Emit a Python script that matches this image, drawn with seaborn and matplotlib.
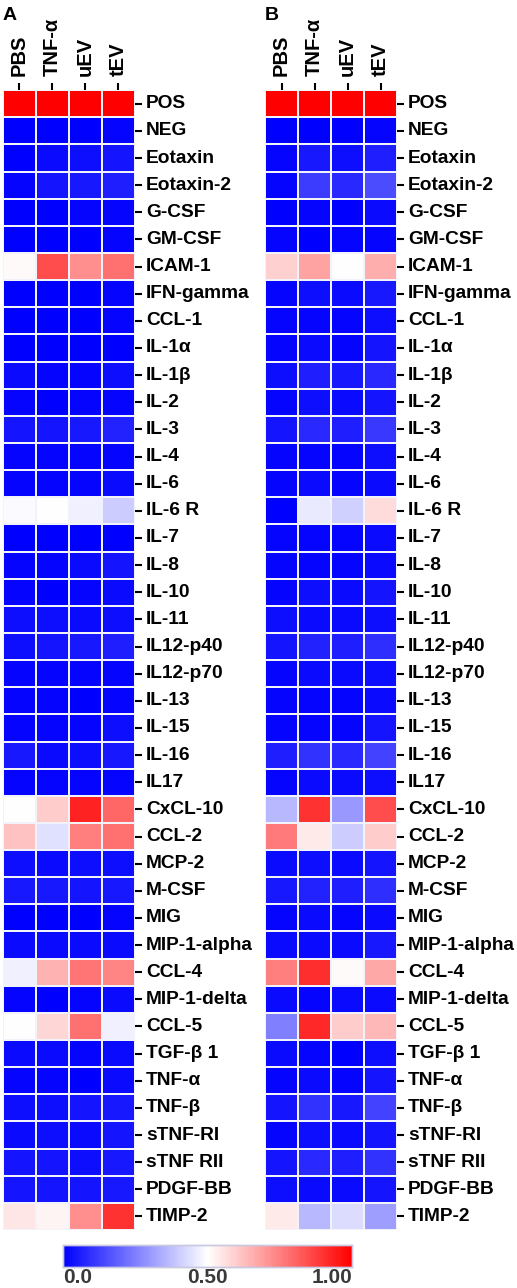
import numpy as np
import pandas as pd
import matplotlib
matplotlib.use('Agg')
import matplotlib.pyplot as plt
import seaborn as sns

sns.set_style('white')
plt.rcParams['font.family'] = ['Liberation Sans', 'DejaVu Sans']
plt.rcParams['font.weight'] = 'bold'
plt.rcParams['text.color'] = 'black'
plt.rcParams['xtick.color'] = 'black'
plt.rcParams['ytick.color'] = 'black'

groups = ['PBS', 'TNF-α', 'uEV', 'tEV']

cytokines = ['POS', 'NEG', 'Eotaxin', 'Eotaxin-2', 'G-CSF', 'GM-CSF', 'ICAM-1',
             'IFN-gamma', 'CCL-1', 'IL-1α', 'IL-1β', 'IL-2', 'IL-3', 'IL-4',
             'IL-6', 'IL-6 R', 'IL-7', 'IL-8', 'IL-10', 'IL-11', 'IL12-p40',
             'IL12-p70', 'IL-13', 'IL-15', 'IL-16', 'IL17', 'CxCL-10', 'CCL-2',
             'MCP-2', 'M-CSF', 'MIG', 'MIP-1-alpha', 'CCL-4', 'MIP-1-delta',
             'CCL-5', 'TGF-β 1', 'TNF-α', 'TNF-β', 'sTNF-RI', 'sTNF RII',
             'PDGF-BB', 'TIMP-2']

# panel A, normalised intensity per group (PBS, TNF-a, uEV, tEV)
vals_a = [
    [1.00, 1.00, 1.00, 1.00],
    [0.00, 0.00, 0.00, 0.01],
    [0.00, 0.02, 0.03, 0.04],
    [0.01, 0.04, 0.05, 0.06],
    [0.00, 0.00, 0.01, 0.01],
    [0.00, 0.00, 0.00, 0.01],
    [0.51, 0.85, 0.72, 0.78],
    [0.00, 0.00, 0.00, 0.01],
    [0.00, 0.00, 0.00, 0.01],
    [0.00, 0.00, 0.00, 0.00],
    [0.02, 0.01, 0.01, 0.03],
    [0.01, 0.00, 0.01, 0.01],
    [0.04, 0.04, 0.05, 0.07],
    [0.01, 0.01, 0.01, 0.01],
    [0.01, 0.01, 0.01, 0.02],
    [0.49, 0.50, 0.47, 0.40],
    [0.00, 0.00, 0.00, 0.00],
    [0.01, 0.01, 0.02, 0.04],
    [0.01, 0.00, 0.01, 0.02],
    [0.03, 0.03, 0.02, 0.03],
    [0.03, 0.04, 0.05, 0.06],
    [0.01, 0.01, 0.01, 0.01],
    [0.01, 0.01, 0.00, 0.01],
    [0.01, 0.01, 0.01, 0.03],
    [0.05, 0.02, 0.03, 0.05],
    [0.01, 0.01, 0.01, 0.01],
    [0.50, 0.60, 0.93, 0.80],
    [0.62, 0.44, 0.75, 0.78],
    [0.03, 0.02, 0.03, 0.03],
    [0.05, 0.05, 0.04, 0.05],
    [0.00, 0.00, 0.00, 0.01],
    [0.02, 0.02, 0.02, 0.02],
    [0.47, 0.65, 0.77, 0.74],
    [0.01, 0.00, 0.01, 0.02],
    [0.50, 0.58, 0.78, 0.47],
    [0.02, 0.02, 0.01, 0.02],
    [0.01, 0.01, 0.00, 0.02],
    [0.03, 0.03, 0.04, 0.05],
    [0.02, 0.03, 0.02, 0.04],
    [0.04, 0.04, 0.03, 0.05],
    [0.04, 0.04, 0.04, 0.05],
    [0.55, 0.52, 0.72, 0.90],
]

# panel B
vals_b = [
    [1.00, 1.00, 1.00, 1.00],
    [0.00, 0.00, 0.00, 0.01],
    [0.01, 0.05, 0.03, 0.06],
    [0.01, 0.12, 0.08, 0.15],
    [0.00, 0.01, 0.00, 0.02],
    [0.01, 0.00, 0.01, 0.01],
    [0.59, 0.68, 0.50, 0.66],
    [0.01, 0.03, 0.02, 0.05],
    [0.01, 0.01, 0.01, 0.03],
    [0.01, 0.02, 0.01, 0.04],
    [0.03, 0.06, 0.05, 0.08],
    [0.01, 0.03, 0.02, 0.04],
    [0.04, 0.08, 0.06, 0.11],
    [0.01, 0.01, 0.01, 0.03],
    [0.01, 0.02, 0.01, 0.02],
    [0.00, 0.46, 0.41, 0.57],
    [0.01, 0.01, 0.01, 0.02],
    [0.01, 0.01, 0.01, 0.02],
    [0.01, 0.03, 0.02, 0.04],
    [0.03, 0.02, 0.02, 0.03],
    [0.04, 0.07, 0.06, 0.09],
    [0.01, 0.02, 0.02, 0.03],
    [0.01, 0.01, 0.01, 0.02],
    [0.01, 0.01, 0.01, 0.04],
    [0.06, 0.10, 0.08, 0.13],
    [0.01, 0.02, 0.02, 0.03],
    [0.36, 0.90, 0.30, 0.85],
    [0.76, 0.54, 0.40, 0.60],
    [0.02, 0.03, 0.02, 0.04],
    [0.05, 0.07, 0.06, 0.09],
    [0.01, 0.02, 0.01, 0.02],
    [0.02, 0.02, 0.02, 0.05],
    [0.75, 0.91, 0.51, 0.67],
    [0.02, 0.01, 0.02, 0.02],
    [0.25, 0.92, 0.60, 0.64],
    [0.02, 0.01, 0.00, 0.03],
    [0.01, 0.02, 0.01, 0.04],
    [0.04, 0.10, 0.05, 0.13],
    [0.01, 0.03, 0.02, 0.04],
    [0.04, 0.08, 0.06, 0.10],
    [0.03, 0.02, 0.02, 0.04],
    [0.54, 0.36, 0.43, 0.31],
]

cbar_ticks = [0.0, 0.5, 1.0]
cbar_labels = ['0.0', '0.50', '1.00']

df_a = pd.DataFrame(vals_a, index=cytokines, columns=groups)
df_b = pd.DataFrame(vals_b, index=cytokines, columns=groups)

fig = plt.figure(figsize=(5.17, 12.88), dpi=100)
ax_a = fig.add_axes([0.0058, 0.045, 0.2553, 0.885])
ax_b = fig.add_axes([0.5126, 0.045, 0.2553, 0.885])
cax = fig.add_axes([0.122, 0.0163, 0.559, 0.0171])

for ax, df, letter in [(ax_a, df_a, 'A'), (ax_b, df_b, 'B')]:
    sns.heatmap(df, ax=ax, cmap='bwr', vmin=0, vmax=1,
                linewidths=1.2, linecolor='#f2f2fa',
                cbar=(ax is ax_a), cbar_ax=cax if ax is ax_a else None,
                cbar_kws={'orientation': 'horizontal', 'ticks': cbar_ticks})
    ax.xaxis.tick_top()
    ax.yaxis.tick_right()
    ax.set_xticklabels(groups, rotation=90, fontsize=14.5, fontweight='bold')
    ax.set_yticklabels(cytokines, rotation=0, fontsize=13.8, fontweight='bold',
                       va='center')
    ax.tick_params(axis='both', length=5, width=1.5, color='black', pad=3)
    ax.tick_params(axis='x', pad=5)
    ax.set_xlabel('')
    ax.set_ylabel('')
    fig.text(ax.get_position().x0, 0.988, letter, fontsize=14,
             fontweight='bold', ha='left', va='center')

cax.set_xticks(cbar_ticks)
cax.set_xticklabels(cbar_labels, fontsize=15, fontweight='bold', color='#3a3a3a')
labs = cax.get_xticklabels()
labs[0].set_ha('left')
labs[-1].set_ha('right')
cax.tick_params(axis='x', length=0, pad=1)
for sp in cax.spines.values():
    sp.set_visible(True)
    sp.set_color('#c8c8e0')
    sp.set_linewidth(1)

fig.savefig('out.png', dpi=100)
